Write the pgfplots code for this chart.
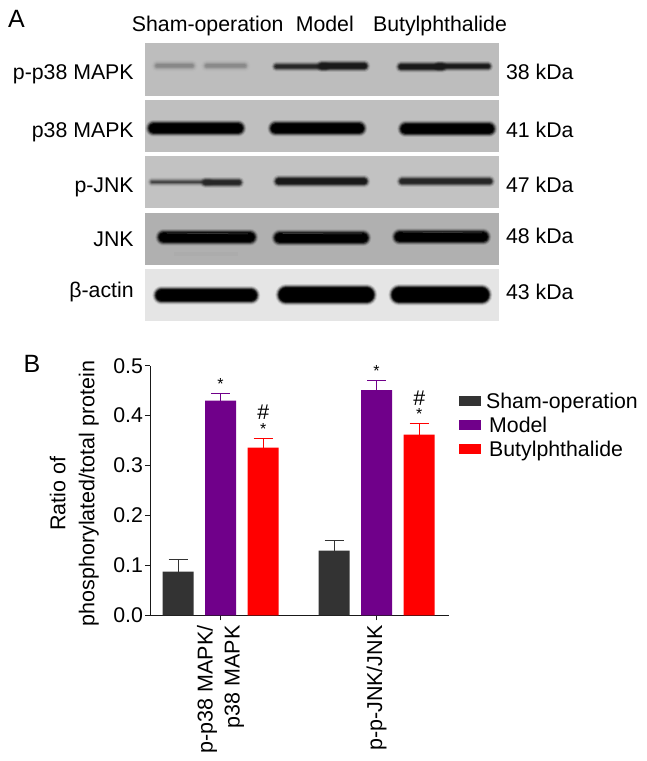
\documentclass[border=0pt]{standalone}
\usepackage{pgfplots}
\pgfplotsset{compat=1.18}
\usepackage{fontspec}
\setmainfont{Liberation Sans}
\definecolor{cSham}{HTML}{333333}
\definecolor{cModel}{HTML}{70008A}
\definecolor{cButyl}{HTML}{FF0000}
\newcommand\fs{\fontsize{21.3}{25}\selectfont}
% \band{x1}{x2}{y}{width}{colour}{strength}
\newcommand\band[6]{%
  \pgfmathsetmacro\ba{#1+#4/2}\pgfmathsetmacro\bb{#2-#4/2}%
  \foreach \ex/\op in {7/0.06,6/0.08,5/0.10,4/0.14,3/0.2,2/0.3,1/0.4,0/0.55,-1/0.7,-2/0.9}{%
    \pgfmathsetmacro\lw{max(#4+\ex,0.5)}%
    \draw[line cap=round,line width=\lw pt,draw=#5,opacity=\op*#6] (\ba,#3) -- (\bb,#3);
  }}
\begin{document}
\begin{tikzpicture}
\useasboundingbox (0,0) rectangle (646pt,761pt);
\begin{scope}[x=0.9918pt,y=-1pt,yshift=761pt,font=\fs]
  % panels
  \fill[black!26] (146,43.3) rectangle (503.5,95.7);
  \fill[black!25] (146,100) rectangle (503.5,151.7);
  \fill[black!24] (146,156) rectangle (503.5,207.7);
  \fill[black!31] (146,213.3) rectangle (503.5,265);
  \fill[black!10] (146,269.3) rectangle (503.5,321);
  % p-p38
  \band{156}{196}{66}{5}{black!55}{0.3}
  \band{206}{249}{66}{5}{black!55}{0.28}
  \band{277}{330}{66.5}{3.5}{black!85}{1}
  \band{322}{370}{66}{5.5}{black!90}{1}
  \band{402}{448}{67}{5}{black!90}{1}
  \band{440}{494}{66.5}{4}{black!90}{1}
  % p38
  \band{150}{245}{128.3}{10}{black}{1}
  \band{273}{367}{128.5}{10}{black}{1}
  \band{404}{498}{129}{10}{black}{1}
  % p-JNK
  \band{152}{212}{182}{2.5}{black!75}{0.7}
  \band{205}{243}{182.5}{4.5}{black!85}{1}
  \band{278}{370}{181.5}{6}{black!90}{1}
  \band{403}{496}{181.5}{5}{black!85}{1}
  % JNK
  \band{160}{257}{237.3}{10}{black}{1}
  \band{277}{371}{238}{10}{black}{1}
  \band{398}{492}{237}{10}{black}{1}
  \draw[black!70,line width=0.5pt] (168,233) -- (250,234);
  \draw[black!70,line width=0.5pt] (285,233.5) -- (365,234);
  \draw[black!70,line width=0.5pt] (406,232) -- (486,233);
  \fill[black!36,opacity=.25] (175,252) rectangle (240,256);
  % actin
  \band{157}{259}{295.5}{12}{black}{1}
  \band{281}{377}{295}{15}{black}{1}
  \band{395}{493}{295}{15}{black}{1}
  % left labels
  \node[anchor=base east,inner sep=0] at (135,79.3) {p-p38 MAPK};
  \node[anchor=base east,inner sep=0] at (135,138) {p38 MAPK};
  \node[anchor=base east,inner sep=0] at (135,192.7) {p-JNK};
  \node[anchor=base east,inner sep=0] at (135,246.7) {JNK};
  \node[anchor=base east,inner sep=0] at (135,297.7) {β-actin};
  % right labels
  \node[anchor=base west,inner sep=0] at (510,79.3) {38 kDa};
  \node[anchor=base west,inner sep=0] at (510,138) {41 kDa};
  \node[anchor=base west,inner sep=0] at (510,192.7) {47 kDa};
  \node[anchor=base west,inner sep=0] at (510,243.3) {48 kDa};
  \node[anchor=base west,inner sep=0] at (510,300) {43 kDa};
  % headers
  \node[anchor=base west,inner sep=0] at (132.8,31.7) {Sham-operation};
  \node[anchor=base west,inner sep=0] at (298,31.7) {Model};
  \node[anchor=base west,inner sep=0] at (376,31.7) {Butylphthalide};
  \node[anchor=base west,inner sep=0,font=\fontsize{25}{28}\selectfont] at (8,28) {A};
  \node[anchor=base west,inner sep=0,font=\fontsize{25}{28}\selectfont] at (23.5,372.3) {B};
\end{scope}
\begin{axis}[
  at={(150.2pt,145.7pt)},anchor=south west,
  scale only axis,width=298.4pt,height=249.6pt,
  ybar,
  bar width=31pt,
  xmin=-0.4513,xmax=1.4615,ymin=0,ymax=0.5,
  axis x line=bottom,axis y line=left,
  axis line style={-,line width=1.2pt,draw=black!90},
  tick align=outside,
  major tick length=5pt,
  tick style={line width=1.2pt,draw=black!90},
  xtick={0,1},
  xticklabels={{p-p38 MAPK/\\p38 MAPK},{p-p-JNK/JNK}},
  xticklabel shift=5pt,
  xticklabel style={rotate=90,anchor=east,align=right,inner sep=0pt,font=\fontsize{21.5}{27}\selectfont},
  ytick={0,0.1,0.2,0.3,0.4,0.5},
  yticklabel style={/pgf/number format/fixed,/pgf/number format/zerofill,/pgf/number format/precision=1,/pgf/number format/assume math mode=true,font=\fs,inner sep=0pt,xshift=-2pt},
  ylabel={Ratio of\\phosphorylated/total protein},
  ylabel style={at={(axis description cs:-0.1716,0.488)},anchor=south,align=center,font=\fontsize{21.5}{29}\selectfont,inner sep=0pt},
  clip=false,
  legend style={at={(axis cs:1.528,0.45)},anchor=north west,draw=none,fill=none,font=\fs,inner sep=0pt,row sep=3pt},
  legend cell align=left,
  legend image code/.code={\fill[#1,draw=none] (0pt,-5pt) rectangle (22pt,5pt);},
]
\addplot[ybar,bar shift=-42.5pt,fill=cSham,draw=none,
  error bars/.cd,y dir=plus,y explicit,
  error bar style={draw=cSham,line width=1.2pt},
  error mark options={draw=cSham,rotate=90,mark size=9.5pt,line width=1.2pt}]
  coordinates {(0,0.0874) +- (0,0.0246) (1,0.1295) +- (0,0.0200)};
\addlegendentry{\hspace*{3pt}Sham-operation}
\addplot[ybar,bar shift=0pt,fill=cModel,draw=none,
  error bars/.cd,y dir=plus,y explicit,
  error bar style={draw=cModel,line width=1.2pt},
  error mark options={draw=cModel,rotate=90,mark size=9.5pt,line width=1.2pt}]
  coordinates {(0,0.430) +- (0,0.015) (1,0.451) +- (0,0.020)};
\addlegendentry{\hspace*{6pt}Model}
\addplot[ybar,bar shift=42.5pt,fill=cButyl,draw=none,
  error bars/.cd,y dir=plus,y explicit,
  error bar style={draw=cButyl,line width=1.2pt},
  error mark options={draw=cButyl,rotate=90,mark size=9.5pt,line width=1.2pt}]
  coordinates {(0,0.336) +- (0,0.018) (1,0.362) +- (0,0.023)};
\addlegendentry{\hspace*{6pt}Butylphthalide}
\node[font=\fontsize{16}{18}\selectfont,inner sep=0] at (axis cs:0,0.463) {*};
\node[font=\fontsize{16}{18}\selectfont,inner sep=0] at (axis cs:0.273,0.374) {*};
\node[font=\fs,inner sep=0] at (axis cs:0.273,0.406) {\#};
\node[font=\fontsize{16}{18}\selectfont,inner sep=0] at (axis cs:1,0.4896) {*};
\node[font=\fontsize{16}{18}\selectfont,inner sep=0] at (axis cs:1.273,0.404) {*};
\node[font=\fs,inner sep=0] at (axis cs:1.273,0.4347) {\#};
\end{axis}
\end{tikzpicture}
\end{document}
